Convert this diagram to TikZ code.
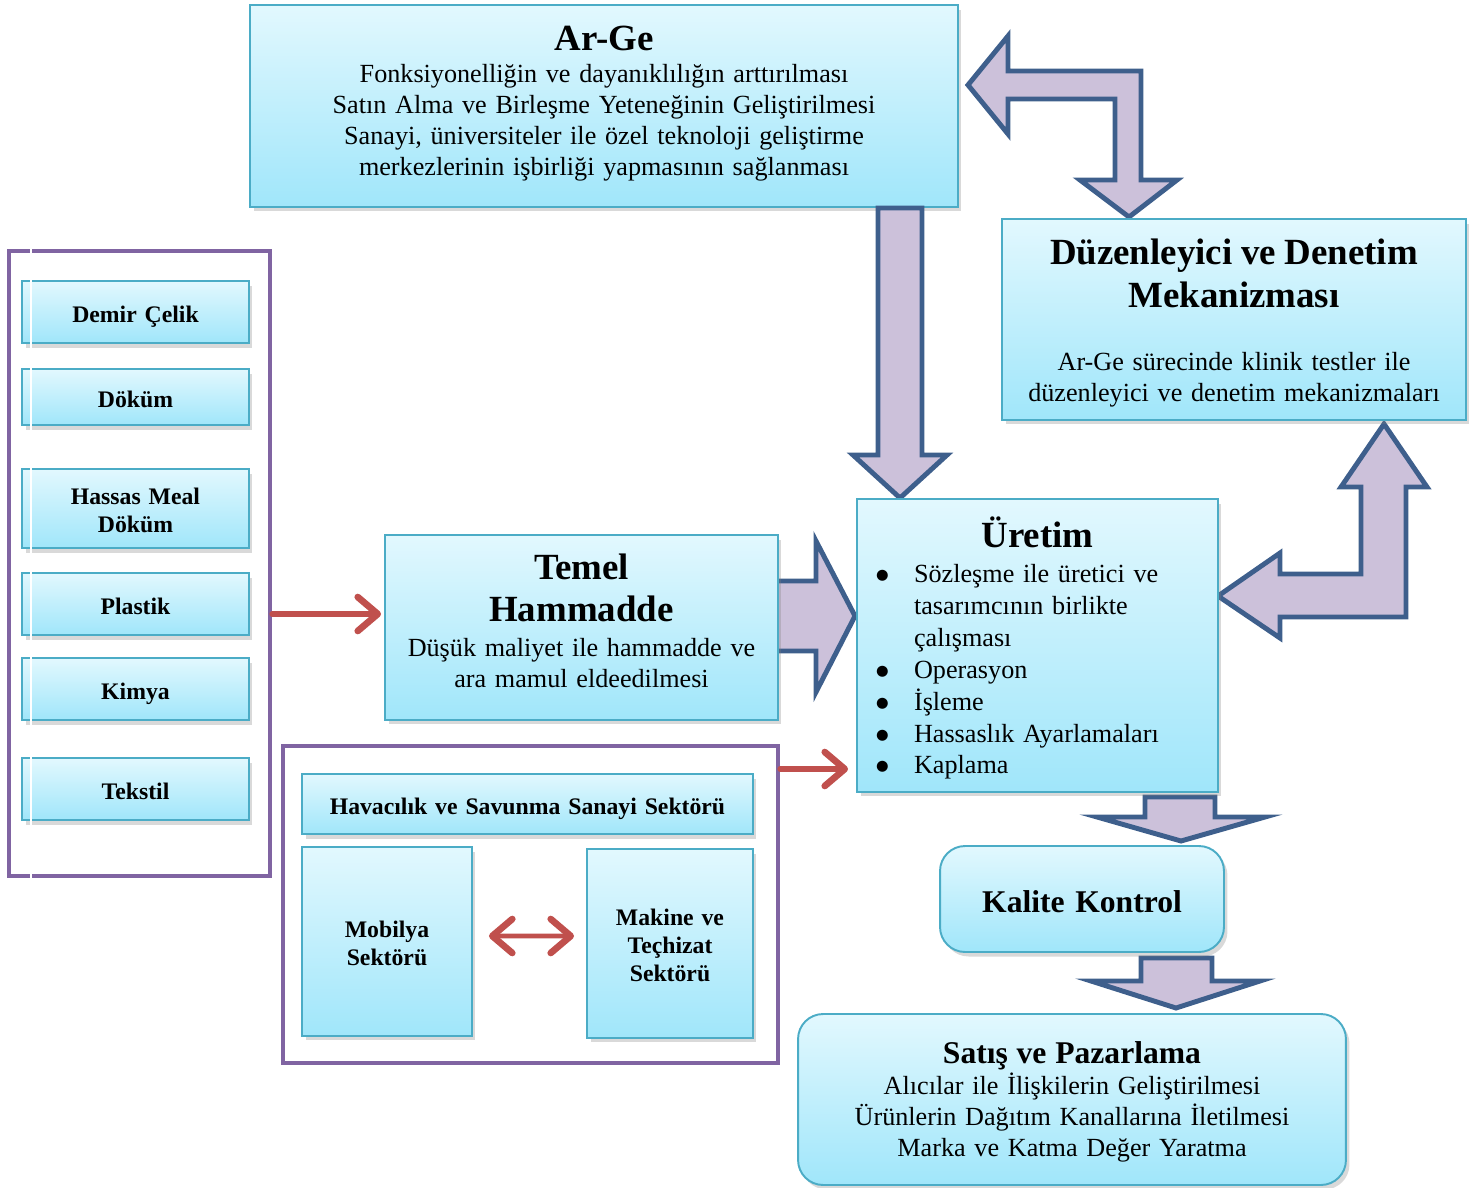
\documentclass[tikz,border=0pt]{standalone}
\usepackage{fontspec}
\setmainfont{Liberation Serif}
\newfontfamily\dotfont{DejaVu Sans}
\usetikzlibrary{arrows.meta,calc,positioning,shadows}
\pgfdeclarelayer{back}
\pgfsetlayers{back,main}
\definecolor{boxtop}{RGB}{226,248,254}
\definecolor{boxbot}{RGB}{160,230,250}
\definecolor{boxline}{RGB}{75,172,198}
\definecolor{framepurple}{RGB}{128,100,162}
\definecolor{arrowfill}{RGB}{204,193,218}
\definecolor{arrowline}{RGB}{62,95,140}
\definecolor{arrowred}{RGB}{192,80,77}
\newcommand{\bodyfont}{\fontsize{14.9}{17.6}\selectfont}
\newcommand{\headfont}{\fontsize{21}{23.8}\selectfont\bfseries}
\newcommand{\labfont}{\fontsize{13.5}{15.9}\selectfont\bfseries}
% invisible struts that fix the height of a first line / depth of a last line
\newcommand{\padtop}[1]{\rule{0pt}{#1}}
\newcommand{\padbot}[1]{\rule[-#1]{0pt}{0pt}}
\newcommand{\labtop}{\rule{0pt}{17pt}}
\newcommand{\labbot}{\rule[-5.5pt]{0pt}{0pt}}
\newcommand{\bigdot}{\raisebox{1.8pt}{\dotfont\fontsize{8.2}{8.2}\selectfont ●}}
\newcommand{\bitem}[1]{\makebox[1.14cm][l]{\hspace{0.38cm}\bigdot}#1}
\newcommand{\bcont}{\hspace*{1.14cm}}

\begin{document}
\begin{tikzpicture}[x=0.02cm,y=-0.02cm,
  cbox/.style={draw=boxline,line width=1.1pt,top color=boxtop,bottom color=boxbot,
    drop shadow={shadow xshift=0.07cm,shadow yshift=-0.09cm,opacity=0.3},
    inner sep=0pt,align=center,font=\bodyfont},
  roundbox/.style={cbox,rounded corners=0.5cm},
  smallbox/.style={cbox,minimum width=4.54cm,text width=4.54cm,font=\labfont},
  groupframe/.style={draw=framepurple,line width=2.3pt,inner sep=0pt},
  blockarrow/.style={fill=arrowfill,draw=arrowline,line width=2.8pt,line join=miter},
  barb/.tip={Straight Barb[length=0.4cm,width=0.68cm,line width=3.8pt,line cap=round,line join=round]},
  redarrow/.style={draw=arrowred,line width=3pt,line cap=round,-barb}]
  \useasboundingbox (0,0) rectangle (1481,1187);

  % block arrows behind the boxes
  \begin{pgfonlayer}{back}
    \draw[blockarrow] (776,581) -- (816,581) -- (816,541) -- (855,616) -- (816,692)
      -- (816,651) -- (776,651) -- cycle;
    \draw[blockarrow] (968,85) -- (1008,36) -- (1008,71) -- (1141,71) -- (1141,180)
      -- (1177,180) -- (1129,217) -- (1080,180) -- (1115,180) -- (1115,99)
      -- (1008,99) -- (1008,134) -- cycle;
    \draw[blockarrow] (1218,596) -- (1280,553) -- (1280,574) -- (1361,574) -- (1361,487)
      -- (1341,487) -- (1384,424) -- (1427,487) -- (1406,487) -- (1406,617)
      -- (1280,617) -- (1280,638) -- cycle;
    \draw[blockarrow] (1145,797) -- (1215,797) -- (1215,817) -- (1265,817) -- (1181,841)
      -- (1097,817) -- (1145,817) -- cycle;
    \draw[blockarrow] (1141,958) -- (1212,958) -- (1212,981) -- (1260,981) -- (1176,1008)
      -- (1091,981) -- (1141,981) -- cycle;
  \end{pgfonlayer}

  % top row
  \node[cbox,minimum width=14.16cm,minimum height=4.04cm,text width=14.16cm] (arge) at (604,106)
    {{\headfont\padtop{20pt}Ar-Ge\par}\vspace{1pt}Fonksiyonelliğin ve dayanıklılığın arttırılması\\
     Satın Alma ve Birleşme Yeteneğinin Geliştirilmesi\\
     Sanayi, üniversiteler ile özel teknoloji geliştirme\\
     merkezlerinin işbirliği yapmasının sağlanması\padbot{12.3pt}};
  \draw[blockarrow] (878,208) -- (922,208) -- (922,455) -- (947,455) -- (900,498)
    -- (853,455) -- (878,455) -- cycle;
  \node[cbox,minimum width=9.28cm,minimum height=4.02cm,text width=9.28cm] (duzen) at (1234,319.5)
    {{\fontsize{21}{24.4}\selectfont\bfseries\padtop{24pt}Düzenleyici ve Denetim\\Mekanizması\par}\vspace{18.5pt}
     Ar-Ge sürecinde klinik testler ile\\düzenleyici ve denetim mekanizmaları\padbot{8.6pt}};

  % sectors on the left
  \node[groupframe,minimum width=5.22cm,minimum height=12.5cm] (leftframe) at (139.5,563.5) {};
  \node[smallbox,minimum height=1.24cm] (demir) at (135.5,312) {\labtop Demir Çelik\labbot};
  \node[smallbox,minimum height=1.12cm] (dokum) at (135.5,397) {\labtop Döküm\labbot};
  \node[smallbox,minimum height=1.58cm] (hassas) at (135.5,508.5) {\labtop Hassas Meal\\Döküm\labbot};
  \node[smallbox,minimum height=1.24cm] (plastik) at (135.5,604) {\labtop Plastik\labbot};
  \node[smallbox,minimum height=1.24cm] (kimya) at (135.5,689) {\labtop Kimya\labbot};
  \node[smallbox,minimum height=1.24cm] (tekstil) at (135.5,789) {\labtop Tekstil\labbot};

  % middle
  \node[cbox,minimum width=7.86cm,minimum height=3.7cm,text width=7.86cm] (temel) at (581.5,627.5)
    {{\headfont\padtop{20pt}Temel\\Hammadde\par}\vspace{2pt}Düşük maliyet ile hammadde ve\\ara mamul eldeedilmesi\padbot{13.2pt}};
  \node[groupframe,minimum width=9.9cm,minimum height=6.34cm] (botframe) at (530.5,904.5) {};
  \node[cbox,minimum width=9.02cm,minimum height=1.2cm,text width=9.02cm,font=\labfont] (havacilik) at (527.5,804)
    {\labtop Havacılık ve Savunma Sanayi Sektörü\labbot};
  \node[cbox,minimum width=3.4cm,minimum height=3.78cm,text width=3.4cm,font=\labfont] (mobilya) at (387,941.5)
    {\labtop Mobilya\\Sektörü\labbot};
  \node[cbox,minimum width=3.32cm,minimum height=3.78cm,text width=3.32cm,font=\labfont] (makine) at (670,943.5)
    {\labtop Makine ve\\Teçhizat\\Sektörü\labbot};

  % right column
  \node[cbox,minimum width=7.22cm,minimum height=5.86cm,text width=7.22cm,align=left] (uretim) at (1037.5,645.5)
    {{\centering\headfont\padtop{24pt}Üretim\par}\vspace{1.4pt}\fontsize{14.9}{18.3}\selectfont
     \bitem{Sözleşme ile üretici ve}\\
     \bcont tasarımcının birlikte\\
     \bcont çalışması\\
     \bitem{Operasyon}\\
     \bitem{İşleme}\\
     \bitem{Hassaslık Ayarlamaları}\\
     \bitem{Kaplama}\padbot{6.7pt}};
  \node[roundbox,minimum width=5.68cm,minimum height=2.12cm,text width=5.68cm,font=\fontsize{18}{21}\selectfont\bfseries] (kalite) at (1082,899)
    {\rule[-4.4pt]{0pt}{24.4pt}Kalite Kontrol};
  \node[roundbox,minimum width=10.96cm,minimum height=3.42cm,text width=10.96cm] (satis) at (1072,1099.5)
    {{\fontsize{18}{20}\selectfont\bfseries\padtop{18pt}Satış ve Pazarlama\par}
     Alıcılar ile İlişkilerin Geliştirilmesi\\
     Ürünlerin Dağıtım Kanallarına İletilmesi\\
     Marka ve Katma Değer Yaratma\padbot{6.5pt}};

  % red arrows
  \coordinate (h1) at ($(temel.west)+(-3,-13.5)$);
  \draw[redarrow] (leftframe.east |- h1) -- (h1);
  \coordinate (h2) at ($(uretim.west)+(-8,123.5)$);
  \draw[redarrow] (botframe.east |- h2) -- (h2);
  \draw[redarrow,line width=2.8pt,barb-barb,shorten <=0.32cm,shorten >=0.24cm]
    ([yshift=0.11cm]mobilya.east) -- ([yshift=0.15cm]makine.west);

  \draw[white,line width=1.6pt] (31,249) -- (31,879);
\end{tikzpicture}
\end{document}
